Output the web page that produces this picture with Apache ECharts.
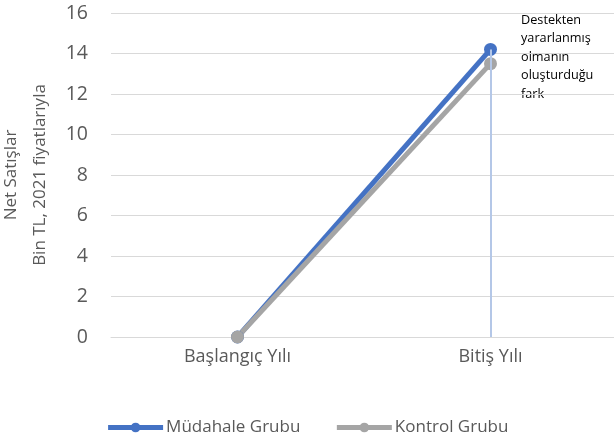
<!DOCTYPE html>
<html>
<head>
<meta charset="utf-8">
<script src="https://cdn.jsdelivr.net/npm/echarts@6/dist/echarts.min.js"></script>
<style>
  html, body { margin: 0; padding: 0; background: #fff; }
  #chart { width: 614px; height: 444px; }
</style>
</head>
<body>
<div id="chart"></div>
<script>
var categories = ['Başlangıç Yılı', 'Bitiş Yılı'];
var mudahale = [0, 14.2];
var kontrol = [0, 13.5];
var yTicks = { min: 0, max: 16, interval: 2 };
var note = 'Destekten\nyararlanmış\nolmanın\noluşturduğu\nfark';

var chart = echarts.init(document.getElementById('chart'));

var option = {
    textStyle: { fontFamily: 'Open Sans' },
    grid: { left: 111, right: -3, top: 13, bottom: 107, outerBoundsMode: 'none', containLabel: false },
    legend: {
        bottom: 3,
        left: 'center',
        itemWidth: 55,
        itemHeight: 12,
        itemGap: 34,
        lineStyle: { width: 5 },
        textStyle: { fontSize: 17, color: '#595959', fontFamily: 'Open Sans', padding: [0, 0, 0, -2] },
        data: ['Müdahale Grubu', 'Kontrol Grubu']
    },
    xAxis: {
        type: 'category',
        data: categories,
        boundaryGap: true,
        axisLine: { lineStyle: { color: '#d9d9d9', width: 1 } },
        axisTick: { show: false },
        axisLabel: { color: '#595959', fontSize: 18, margin: 11 }
    },
    yAxis: {
        type: 'value',
        min: yTicks.min,
        max: yTicks.max,
        interval: yTicks.interval,
        name: 'Net Satışlar\nBin TL, 2021 fiyatlarıyla',
        nameLocation: 'center',
        nameGap: 52,
        nameTextStyle: { color: '#595959', fontSize: 17, lineHeight: 29 },
        axisLine: { show: false },
        axisTick: { show: false },
        axisLabel: { color: '#595959', fontSize: 19.5, margin: 23 },
        splitLine: { lineStyle: { color: '#d9d9d9', width: 1 } }
    },
    series: [
        {
            name: 'Müdahale Grubu',
            type: 'line',
            data: mudahale,
            symbol: 'circle',
            symbolSize: 13,
            lineStyle: { color: '#4472c4', width: 5 },
            itemStyle: { color: '#4472c4' },
            markLine: {
                silent: true,
                symbol: 'none',
                label: { show: false },
                lineStyle: { color: '#b4c7e7', width: 2, type: 'solid' },
                data: [[
                    { coord: [1, mudahale[1]] },
                    { coord: [1, 0] }
                ]]
            }
        },
        {
            name: 'Kontrol Grubu',
            type: 'line',
            data: kontrol,
            symbol: 'circle',
            symbolSize: 13,
            lineStyle: { color: '#a5a5a5', width: 5 },
            itemStyle: { color: '#a5a5a5' }
        }
    ],
    graphic: [
        {
            type: 'text',
            left: 521,
            top: 11,
            style: {
                text: note,
                fill: '#000',
                fontSize: 12.7,
                lineHeight: 18.5,
                fontFamily: 'Open Sans'
            }
        }
    ]
};

chart.setOption(option);
</script>
</body>
</html>
